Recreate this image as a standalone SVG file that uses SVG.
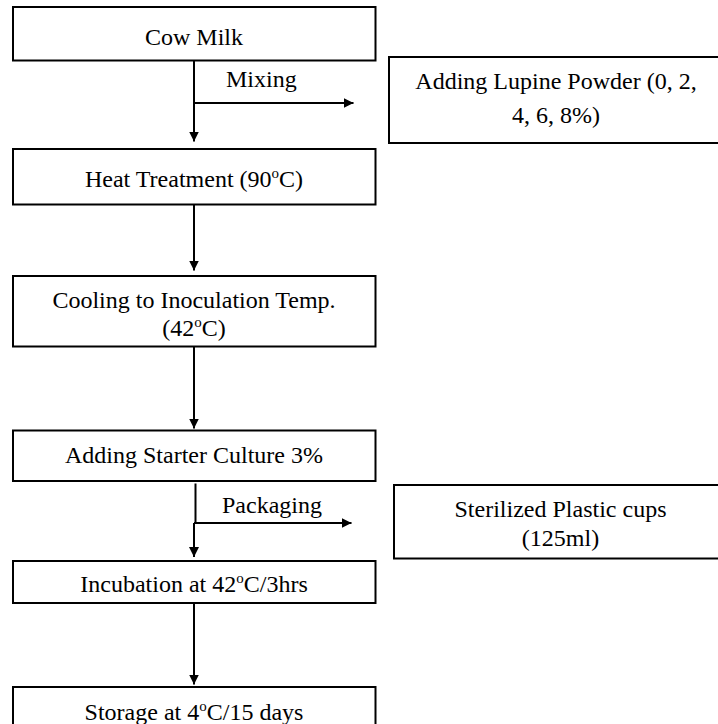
<svg xmlns="http://www.w3.org/2000/svg" width="718" height="724" viewBox="0 0 718 724">
<style>
.box{fill:#fff;stroke:#000;stroke-width:2}
.t{font-family:"Liberation Serif","Times New Roman",serif;font-size:24px;fill:#000}
.c{text-anchor:middle}
.ln{fill:none;stroke:#000;stroke-width:2}
</style>
<defs>
<marker id="ah" markerWidth="10" markerHeight="10" refX="10" refY="5" orient="auto" markerUnits="userSpaceOnUse">
<path d="M0,0 L10,5 L0,10 Z" fill="#000"/>
</marker>
</defs>
<rect width="718" height="724" fill="#fff"/>
<g id="connectors">
<path class="ln" d="M194,61 V141.5" marker-end="url(#ah)"/>
<path class="ln" d="M194,103 H353.5" marker-end="url(#ah)"/>
<path class="ln" d="M194,205 V270.5" marker-end="url(#ah)"/>
<path class="ln" d="M194,347 V428.5" marker-end="url(#ah)"/>
<path class="ln" d="M195.5,483.5 V523"/>
<path class="ln" d="M194,523 V557" marker-end="url(#ah)"/>
<path class="ln" d="M194,523 H351.5" marker-end="url(#ah)"/>
<path class="ln" d="M194,603.5 V684.5" marker-end="url(#ah)"/>
<text class="t" x="226" y="87">Mixing</text>
<text class="t" x="222" y="513">Packaging</text>
</g>
<g id="cow-milk">
<rect class="box" x="13" y="7" width="362.5" height="53.5"/>
<text class="t c" x="194" y="45">Cow Milk</text>
</g>
<g id="lupine">
<rect class="box" x="389" y="57" width="340" height="86"/>
<text class="t c" x="556" y="89">Adding Lupine Powder (0, 2,</text>
<text class="t c" x="556" y="123">4, 6, 8%)</text>
</g>
<g id="heat">
<rect class="box" x="13" y="149" width="362.5" height="55.5"/>
<text class="t c" x="194" y="187">Heat Treatment (90<tspan font-size="15" dy="-9">o</tspan><tspan dy="9">C)</tspan></text>
</g>
<g id="cooling">
<rect class="box" x="13" y="276" width="362.5" height="70.5"/>
<text class="t c" x="194" y="307.5">Cooling to Inoculation Temp.</text>
<text class="t c" x="194" y="335.5">(42<tspan font-size="15" dy="-9">o</tspan><tspan dy="9">C)</tspan></text>
</g>
<g id="starter">
<rect class="box" x="13" y="430.5" width="362.5" height="50.5"/>
<text class="t c" x="194" y="463">Adding Starter Culture 3%</text>
</g>
<g id="cups">
<rect class="box" x="394" y="485" width="340" height="73.5"/>
<text class="t c" x="560.5" y="517">Sterilized Plastic cups</text>
<text class="t c" x="560.5" y="545.5">(125ml)</text>
</g>
<g id="incubation">
<rect class="box" x="13" y="561" width="362.5" height="42"/>
<text class="t c" x="194" y="592">Incubation at 42<tspan font-size="15" dy="-9">o</tspan><tspan dy="9">C/3hrs</tspan></text>
</g>
<g id="storage">
<rect class="box" x="13" y="687" width="362.5" height="60"/>
<text class="t c" x="194" y="720">Storage at 4<tspan font-size="15" dy="-9">o</tspan><tspan dy="9">C/15 days</tspan></text>
</g>
</svg>
